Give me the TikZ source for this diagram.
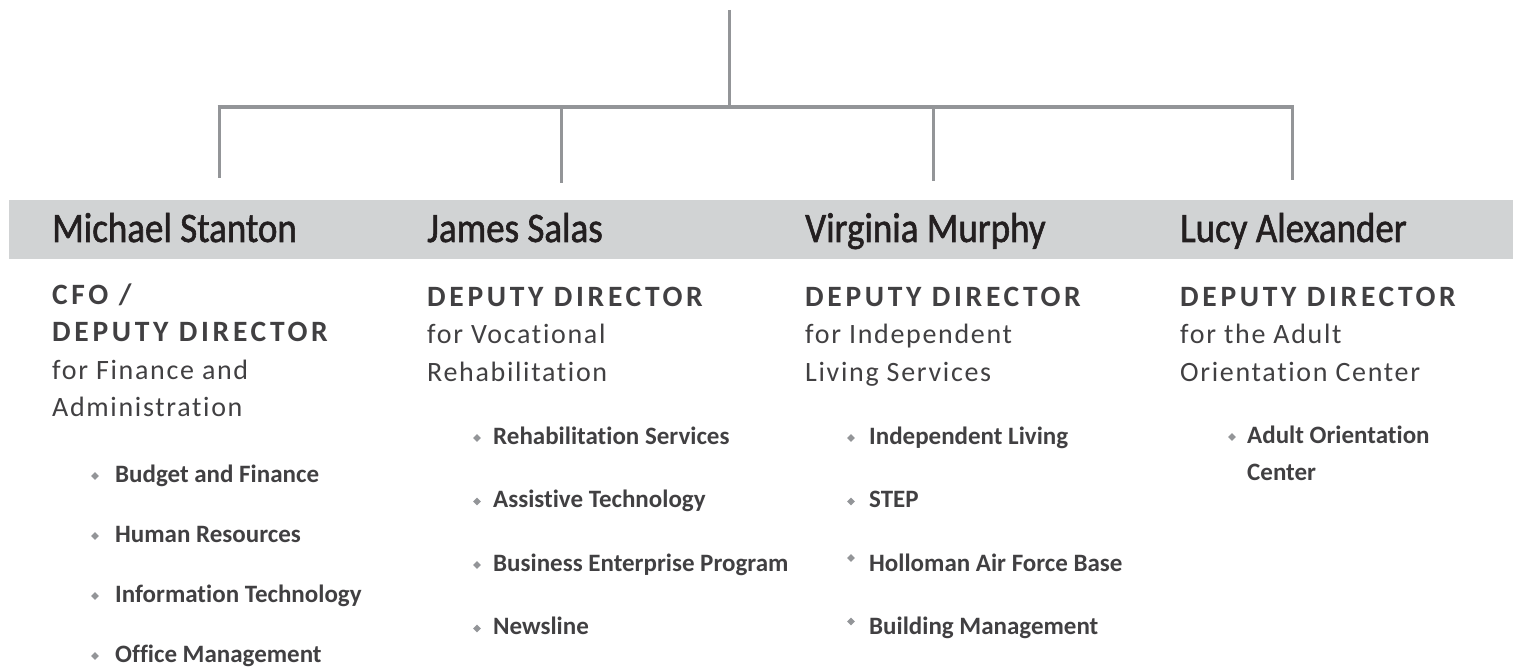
\documentclass[tikz,border=0pt]{standalone}
\usepackage{fontspec}
\setmainfont{Carlito}[Ligatures=NoCommon]
\newfontfamily\trackfont[LetterSpace=6, Ligatures=NoCommon]{Carlito}
\newfontfamily\capsfont[LetterSpace=12.5, Ligatures=NoCommon]{Carlito}
\newfontfamily\namefont[FakeStretch=0.88, FakeBold=1.4]{Carlito}
\usetikzlibrary{shapes.geometric}
\definecolor{linegray}{HTML}{939598}
\definecolor{bandgray}{HTML}{D1D3D4}
\definecolor{textgray}{HTML}{414042}
\definecolor{namegray}{HTML}{231F20}
\tikzset{
    personname/.style = {anchor=base west, inner sep=0pt, text=namegray,
        font=\namefont\fontsize{42}{50}\selectfont},
    titlecaps/.style = {anchor=base west, inner sep=0pt, text=textgray,
        font=\capsfont\bfseries\fontsize{29.5}{37}\selectfont},
    titletext/.style = {anchor=base west, inner sep=0pt, text=textgray,
        font=\trackfont\fontsize{28}{37}\selectfont},
    unititem/.style = {anchor=base west, inner sep=0pt, text=textgray,
        font=\bfseries\fontsize{25}{37}\selectfont},
    unitmark/.style = {diamond, fill=linegray, inner sep=0pt, minimum size=8pt},
    bus/.style = {draw=linegray, line width=3.5pt},
    drop/.style = {draw=linegray, line width=3pt}
}

\begin{document}
\begin{tikzpicture}[x=1pt, y=-1pt]
    \useasboundingbox (0,0) rectangle (1521,671);
    % Header band
    \fill[bandgray] (9,200) rectangle (1513,259);
    % Place nodes
    \node[personname] (ms) at (52,242) {Michael Stanton};
    \node[personname] (js) at (427,242) {James Salas};
    \node[personname] (vm) at (805,242) {Virginia Murphy};
    \node[personname] (la) at (1180,242) {Lucy Alexander};
    % Titles
    \node[titlecaps] (ms-cfo) at (52,305) {CFO /};
    \node[titlecaps] (ms-dd) at (52,341) {DEPUTY DIRECTOR};
    \node[titletext] (ms-for) at (52,379) {for Finance and};
    \node[titletext] (ms-for2) at (52,416) {Administration};
    \node[titlecaps] (js-dd) at (427,306) {DEPUTY DIRECTOR};
    \node[titletext] (js-for) at (427,343) {for Vocational};
    \node[titletext] (js-for2) at (427,381) {Rehabilitation};
    \node[titlecaps] (vm-dd) at (805,306) {DEPUTY DIRECTOR};
    \node[titletext] (vm-for) at (805,343) {for Independent};
    \node[titletext] (vm-for2) at (805,381) {Living Services};
    \node[titlecaps] (la-dd) at (1180,306) {DEPUTY DIRECTOR};
    \node[titletext] (la-for) at (1180,343) {for the Adult};
    \node[titletext] (la-for2) at (1180,381) {Orientation Center};
    % Units
    \foreach \txt [count=\i] in {Budget and Finance, Human Resources,
        Information Technology, Office Management} {
        \node[unitmark] (ms-mark\i) at (95,416+60*\i) {};
        \node[unititem] (ms-item\i) at (115,422+60*\i) {\txt};
    }
    \foreach \txt [count=\i] in {Rehabilitation Services, Assistive Technology,
        Business Enterprise Program, Newsline} {
        \node[unitmark] (js-mark\i) at (477,374.5+63.5*\i) {};
        \node[unititem] (js-item\i) at (493,380.5+63.5*\i) {\txt};
    }
    \foreach \txt/\up [count=\i] in {Independent Living/6, STEP/6,
        Holloman Air Force Base/13, Building Management/13} {
        \node[unitmark] (vm-mark\i) at (851,380.5+63.5*\i-\up) {};
        \node[unititem] (vm-item\i) at (869,380.5+63.5*\i) {\txt};
    }
    \node[unitmark] (la-mark1) at (1232,437) {};
    \node[unititem] (la-item1) at (1247,443) {Adult Orientation};
    \node[unititem] (la-item1b) at (1247,480) {Center};
    % Draw edges
    \coordinate (top) at (729,10);
    \coordinate (hub) at (729,107);
    \coordinate (ms-top) at (219,107);
    \coordinate (js-top) at (561,107);
    \coordinate (vm-top) at (933,107);
    \coordinate (la-top) at (1292,107);
    \coordinate (ms-end) at (219,178);
    \coordinate (js-end) at (561,183);
    \coordinate (vm-end) at (933,181);
    \coordinate (la-end) at (1292,180);
    \path[drop] (top) -- (hub);
    \path[bus] ([xshift=-1.5pt] ms-top) -- ([xshift=1.5pt] la-top);
    \foreach \who in {ms, js, vm, la}
        \path[drop] (\who-top) -- (\who-end);
\end{tikzpicture}
\end{document}
